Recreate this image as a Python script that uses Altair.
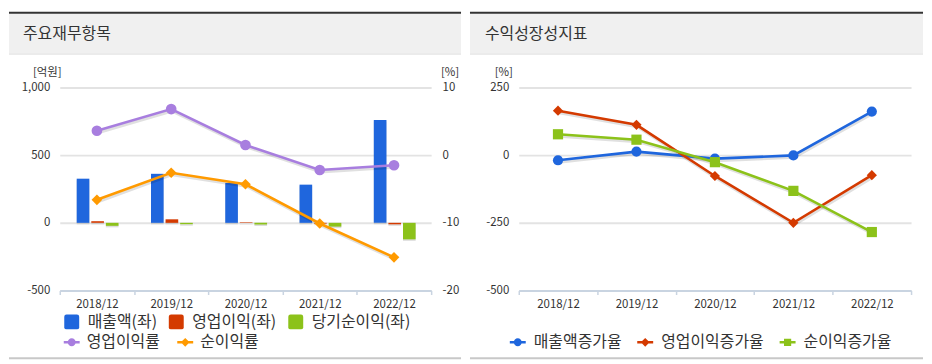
import altair as alt
import pandas as pd

FONT = "Noto Sans CJK KR"

# ---------------- data ----------------
years = ["2018/12", "2019/12", "2020/12", "2021/12", "2022/12"]

bar_items = ["매출액(좌)", "영업이익(좌)", "당기순이익(좌)"]
sales = [326, 362, 294, 282, 760]
op_income = [12, 26, 4, -6, -11]
net_income = [-22, -10, -12, -28, -122]

line_items = ["영업이익률", "순이익률"]
op_margin = [3.6, 6.8, 1.5, -2.2, -1.5]
net_margin = [-6.6, -2.6, -4.3, -10.1, -15.1]

growth_items = ["매출액증가율", "영업이익증가율", "순이익증가율"]
sales_growth = [-19, 13, -13, -1, 161]
op_growth = [164, 112, -77, -250, -74]
net_growth = [77, 57, -26, -132, -284]

left_ticks = [-500, 0, 500, 1000]
pct_ticks = [-20, -10, 0, 10]
growth_ticks = [-500, -250, 0, 250]

left_title = "주요재무항목"
right_title = "수익성장성지표"
unit_won = "[억원]"
unit_pct = "[%]"

# ---------------- styles ----------------
bar_colors = ["#1f66dd", "#d43a00", "#8cc21a"]
line_colors = ["#a87edf", "#ff9a00"]
growth_colors = ["#1f66dd", "#d43a00", "#8cc21a"]

SQ = "M-0.7,-1H0.7Q1,-1 1,-0.7V0.7Q1,1 0.7,1H-0.7Q-1,1 -1,0.7V-0.7Q-1,-1 -0.7,-1Z"
STUB = "M-1,-0.16H-0.4V0.16H-1Z M0.4,-0.16H1V0.16H0.4Z "
L_CIRCLE = STUB + "M0.5,0A0.5,0.5 0 1 1 -0.5,0A0.5,0.5 0 1 1 0.5,0Z"
L_DIAMOND = STUB + "M0,-0.55L0.55,0L0,0.55L-0.55,0Z"
L_SQUARE = STUB + "M-0.45,-0.45H0.45V0.45H-0.45Z"

H = 349
YR = [280, 76]
AXIS_COL = "#c9d4e1"
TXT = "#333333"
LEG_FS = 16


def minus_fix(fmt):
    return "replace(format(datum.value, '%s'), '\u2212', '-')" % fmt


def one(**kw):
    return pd.DataFrame({k: [v] for k, v in kw.items()})


def frame(W, title, title_x):
    head = alt.Chart(one(a=0)).mark_rect(color="#f0f0f0").encode(
        x=alt.value(0), x2=alt.value(W), y=alt.value(2), y2=alt.value(42))
    top = alt.Chart(one(a=0)).mark_rule(color="#333333", strokeWidth=2).encode(
        x=alt.value(0), x2=alt.value(W), y=alt.value(1))
    hline = alt.Chart(one(a=0)).mark_rule(color="#dcdcdc", strokeWidth=1).encode(
        x=alt.value(0), x2=alt.value(W), y=alt.value(42.5))
    bot = alt.Chart(one(a=0)).mark_rule(color="#c8c8c8", strokeWidth=2).encode(
        x=alt.value(0), x2=alt.value(W), y=alt.value(348))
    ttl = alt.Chart(one(t=title)).mark_text(
        font=FONT, fontSize=16, color=TXT, align="left", baseline="middle"
    ).encode(text="t:N", x=alt.value(title_x), y=alt.value(22))
    return [head, top, hline, bot, ttl]


def unit_text(txt, x):
    return alt.Chart(one(t=txt)).mark_text(
        font=FONT, fontSize=11.5, color=TXT, align="center", baseline="middle"
    ).encode(text="t:N", x=alt.value(x), y=alt.value(62))


def x_enc(rng):
    return alt.X(
        "year:N", sort=years,
        scale=alt.Scale(domain=years, range=rng, paddingInner=0, paddingOuter=0),
        axis=alt.Axis(orient="bottom", offset=-(H - YR[0]), title=None, labelAngle=0,
                      labelFont=FONT, labelFontSize=11.5, labelColor=TXT, labelPadding=4,
                      labelBaseline="top", tickBand="extent", tickSize=4,
                      tickColor=AXIS_COL, tickWidth=1.5, domainColor=AXIS_COL,
                      domainWidth=2, grid=False))


def legend(x, y, sym_type=None, size=225, offset=8, pad=11):
    kw = dict(orient="none", legendX=x, legendY=y, direction="horizontal", title=None,
              symbolSize=size, symbolStrokeWidth=0, symbolOpacity=1,
              labelFont=FONT, labelFontSize=LEG_FS, labelColor=TXT, labelOffset=offset,
              columnPadding=pad, padding=0, labelLimit=300)
    if sym_type:
        kw["symbolType"] = sym_type
    return alt.Legend(**kw)


# ---------------- left panel ----------------
W1 = 454
XR1 = [51, 424]

df_bars = pd.DataFrame({
    "year": years * 3,
    "item": [bar_items[0]] * 5 + [bar_items[1]] * 5 + [bar_items[2]] * 5,
    "value": sales + op_income + net_income,
})
df_lines = pd.DataFrame({
    "year": years * 2,
    "series": [line_items[0]] * 5 + [line_items[1]] * 5,
    "value": op_margin + net_margin,
})
df_leg1 = pd.DataFrame({"series": line_items})

left_scale = alt.Scale(domain=[-500, 1000], range=YR)
pct_scale = alt.Scale(domain=[-20, 10], range=YR)
xoff = alt.XOffset("item:N", sort=bar_items,
                   scale=alt.Scale(domain=bar_items, range=[17, 59],
                                   paddingInner=0.133, paddingOuter=0))

bar_shadow = alt.Chart(df_bars).mark_bar(
    color="#8a8a8a", opacity=0.3, xOffset=2, x2Offset=2, yOffset=1.5, y2Offset=1.5
).encode(x=x_enc(XR1), xOffset=xoff,
         y=alt.Y("value:Q", scale=left_scale, axis=None))

bars = alt.Chart(df_bars).mark_bar().encode(
    x=x_enc(XR1), xOffset=xoff,
    y=alt.Y("value:Q", scale=left_scale,
            axis=alt.Axis(orient="left", offset=-XR1[0], values=left_ticks, title=None,
                          domain=False, ticks=False, labelPadding=10, labelFont=FONT,
                          labelFontSize=11.5, labelColor=TXT, grid=True,
                          gridColor="#e3e3e3", gridWidth=2, labelExpr=minus_fix(","))),
    color=alt.Color("item:N", sort=bar_items,
                    scale=alt.Scale(domain=bar_items, range=bar_colors),
                    legend=legend(55, 303.5, SQ, 225, 8, 11)),
)

line_shadow1 = alt.Chart(df_lines).mark_line(
    color="#000000", opacity=0.12, strokeWidth=3, xOffset=1, yOffset=2
).encode(x=x_enc(XR1), y=alt.Y("value:Q", scale=pct_scale, axis=None), detail="series:N")

lines1 = alt.Chart(df_lines).mark_line(strokeWidth=2.6).encode(
    x=x_enc(XR1),
    y=alt.Y("value:Q", scale=pct_scale,
            axis=alt.Axis(orient="right", offset=-(W1 - XR1[1]), values=pct_ticks,
                          title=None, domain=False, ticks=False, grid=False,
                          labelPadding=11, labelFont=FONT, labelFontSize=11.5,
                          labelColor=TXT, labelExpr=minus_fix("d"))),
    color=alt.Color("series:N", sort=line_items,
                    scale=alt.Scale(domain=line_items, range=line_colors), legend=None),
)

points1 = alt.Chart(df_lines).mark_point(filled=True, opacity=1, size=115).encode(
    x=x_enc(XR1), y=alt.Y("value:Q", scale=pct_scale, axis=None),
    color=alt.Color("series:N", sort=line_items,
                    scale=alt.Scale(domain=line_items, range=line_colors), legend=None),
    shape=alt.Shape("series:N", sort=line_items,
                    scale=alt.Scale(domain=line_items, range=["circle", "diamond"]),
                    legend=None),
)

leg1 = alt.Chart(df_leg1).mark_point(filled=True, opacity=0).encode(
    color=alt.Color("series:N", sort=line_items,
                    scale=alt.Scale(domain=line_items, range=line_colors),
                    legend=legend(55, 324, None, 256, 7, 17)),
    shape=alt.Shape("series:N", sort=line_items,
                    scale=alt.Scale(domain=line_items, range=[L_CIRCLE, L_DIAMOND]),
                    legend=legend(55, 324, None, 256, 7, 17)),
)

left = alt.layer(
    *frame(W1, left_title, 14),
    bar_shadow, bars, line_shadow1, lines1, points1, leg1,
    unit_text(unit_won, 38.5), unit_text(unit_pct, 443),
).resolve_scale(y="independent", color="independent", shape="independent").properties(
    width=W1, height=H)

# ---------------- right panel ----------------
W2 = 455
XR2 = [49, 443]
growth_scale = alt.Scale(domain=[-500, 250], range=YR)

df_growth = pd.DataFrame({
    "year": years * 3,
    "series": [growth_items[0]] * 5 + [growth_items[1]] * 5 + [growth_items[2]] * 5,
    "value": sales_growth + op_growth + net_growth,
})
df_leg2 = pd.DataFrame({"series": growth_items})

line_shadow2 = alt.Chart(df_growth).mark_line(
    color="#000000", opacity=0.12, strokeWidth=3, xOffset=1, yOffset=2
).encode(x=x_enc(XR2), y=alt.Y("value:Q", scale=growth_scale, axis=None),
         detail="series:N")

lines2 = alt.Chart(df_growth).mark_line(strokeWidth=2.6).encode(
    x=x_enc(XR2),
    y=alt.Y("value:Q", scale=growth_scale,
            axis=alt.Axis(orient="left", offset=-XR2[0], values=growth_ticks, title=None,
                          domain=False, ticks=False, labelPadding=10, labelFont=FONT,
                          labelFontSize=11.5, labelColor=TXT, grid=True,
                          gridColor="#e3e3e3", gridWidth=2, labelExpr=minus_fix("d"))),
    color=alt.Color("series:N", sort=growth_items,
                    scale=alt.Scale(domain=growth_items, range=growth_colors), legend=None),
)

points2 = alt.Chart(df_growth).mark_point(filled=True, opacity=1, size=105).encode(
    x=x_enc(XR2), y=alt.Y("value:Q", scale=growth_scale, axis=None),
    color=alt.Color("series:N", sort=growth_items,
                    scale=alt.Scale(domain=growth_items, range=growth_colors), legend=None),
    shape=alt.Shape("series:N", sort=growth_items,
                    scale=alt.Scale(domain=growth_items,
                                    range=["circle", "diamond", "square"]),
                    legend=None),
)

leg2 = alt.Chart(df_leg2).mark_point(filled=True, opacity=0).encode(
    color=alt.Color("series:N", sort=growth_items,
                    scale=alt.Scale(domain=growth_items, range=growth_colors),
                    legend=legend(40, 324, None, 256, 8, 15)),
    shape=alt.Shape("series:N", sort=growth_items,
                    scale=alt.Scale(domain=growth_items,
                                    range=[L_CIRCLE, L_DIAMOND, L_SQUARE]),
                    legend=legend(40, 324, None, 256, 8, 15)),
)

right = alt.layer(
    *frame(W2, right_title, 15),
    line_shadow2, lines2, points2, leg2,
    unit_text(unit_pct, 34),
).resolve_scale(y="independent", color="independent", shape="independent").properties(
    width=W2, height=H)

chart = alt.hconcat(left, right, spacing=7).properties(
    padding={"left": 0, "top": 3, "right": 0, "bottom": 0},
    background="white",
).configure_view(stroke=None)

chart.save("out.html", embed_options={"renderer": "svg", "actions": False})
